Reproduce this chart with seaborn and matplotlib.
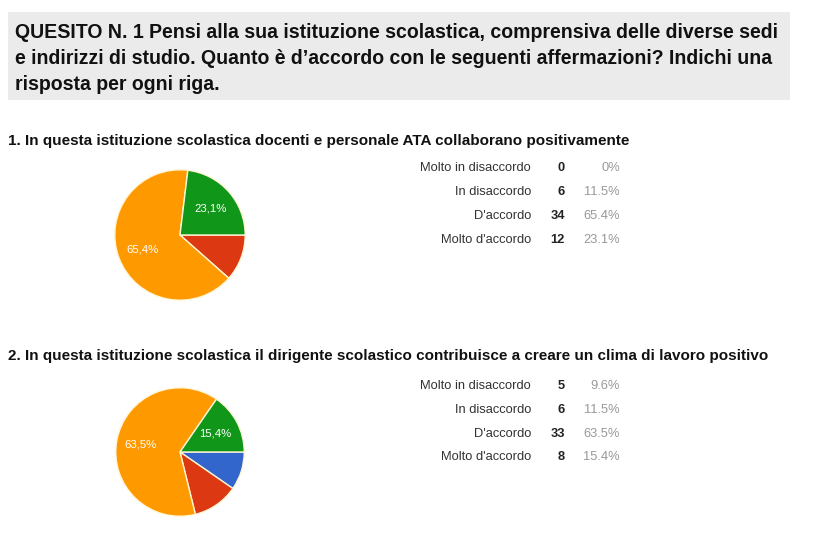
import matplotlib
matplotlib.use("Agg")
import matplotlib.pyplot as plt
from matplotlib import font_manager
import seaborn as sns

# ---------------- data ----------------
header_lines = [
    "QUESITO N. 1 Pensi alla sua istituzione scolastica, comprensiva delle diverse sedi",
    "e indirizzi di studio. Quanto è d\u2019accordo con le seguenti affermazioni? Indichi una",
    "risposta per ogni riga.",
]
questions = [
    "1. In questa istituzione scolastica docenti e personale ATA collaborano positivamente",
    "2. In questa istituzione scolastica il dirigente scolastico contribuisce a creare un clima di lavoro positivo",
]
categories = ["Molto in disaccordo", "In disaccordo", "D'accordo", "Molto d'accordo"]
q1_counts = [0, 6, 34, 12]
q2_counts = [5, 6, 33, 8]
colors = ["#3366cc", "#dc3912", "#ff9900", "#109618"]

sns.set_theme(style="white")

available = {f.name for f in font_manager.fontManager.ttflist}
narrow = "Liberation Sans Narrow" if "Liberation Sans Narrow" in available else "Liberation Sans"
plt.rcParams["font.family"] = ["Liberation Sans", "DejaVu Sans"]

W, H = 822, 539
fig = plt.figure(figsize=(W / 100, H / 100), dpi=100)
fig.patch.set_facecolor("white")


def fx(x):
    return x / W


def fy(y):
    return 1 - y / H


# header box
fig.patches.append(plt.Rectangle((fx(8), fy(100)), fx(790) - fx(8), fy(12) - fy(100),
                                 transform=fig.transFigure, facecolor="#ebebeb",
                                 edgecolor="none", zorder=0))
for i, line in enumerate(header_lines):
    fig.text(fx(15), fy(33 + i * 25.5), line, fontsize=14.05, fontweight="bold",
             family=[narrow, "DejaVu Sans"], color="#111111", va="center", ha="left")

# questions
pie_specs = [
    (q1_counts, 141, (180, 235), 66.5, 168, 24.0),
    (q2_counts, 356, (180, 452), 65.5, 386, 23.8),
]

for qi, (counts, ty, (cx, cy), r, row0, step) in enumerate(pie_specs):
    fig.text(fx(8), fy(ty), questions[qi], fontsize=11.0, fontweight="bold",
             color="#111111", va="center", ha="left")
    total = sum(counts)
    ax = fig.add_axes([fx(cx - r), fy(cy + r), 2 * r / W, 2 * r / H])

    def fmt(p):
        return (f"{p:.1f}%".replace(".", ",")) if p >= 13 else ""

    wedges, texts, autotexts = ax.pie(
        counts, colors=colors, startangle=0, counterclock=False,
        autopct=fmt, pctdistance=0.62,
        wedgeprops=dict(edgecolor="#fff6d5", linewidth=1.0),
        textprops=dict(color="white", fontsize=8.2))
    ax.set_xlim(-1.02, 1.02)
    ax.set_ylim(-1.02, 1.02)
    ax.set_aspect("equal")
    ax.axis("off")

    for j, cat in enumerate(categories):
        y = fy(row0 + j * step)
        pct = counts[j] / total * 100
        pct_s = f"{pct:.1f}%" if counts[j] else "0%"
        fig.text(fx(531), y, cat, fontsize=9.3, color="#333333", ha="right", va="center")
        fig.text(fx(565), y, str(counts[j]), fontsize=9.3, fontweight="bold",
                 color="#222222", ha="right", va="center")
        fig.text(fx(620), y, pct_s, fontsize=9.3, color="#999999", ha="right", va="center")

fig.savefig("out.png", dpi=100, facecolor="white")
